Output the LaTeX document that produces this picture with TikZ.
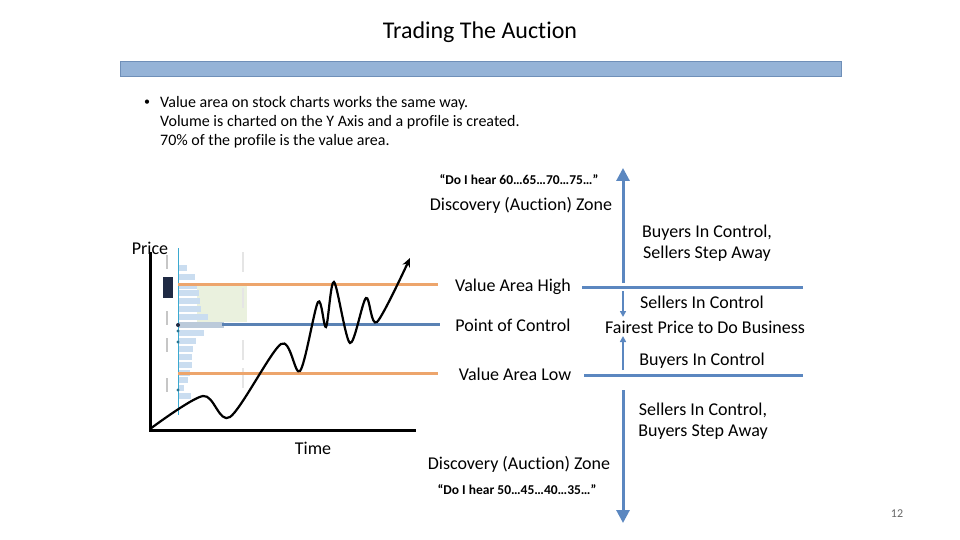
\documentclass[tikz,border=0pt]{standalone}
\usepackage{fontspec}
\setmainfont{Carlito}[Ligatures=NoCommon]
\usepackage{xcolor}
\usetikzlibrary{arrows.meta}
\definecolor{barblue}{HTML}{95B3D7}
\definecolor{baredge}{HTML}{6F8FB8}
\definecolor{zoneblue}{HTML}{5B87C0}
\definecolor{vaorange}{HTML}{EDA56C}
\definecolor{pocblue}{HTML}{5A82B4}
\definecolor{profblue}{HTML}{CADDF0}
\definecolor{profcyan}{HTML}{3BA9D0}
\definecolor{profgreen}{HTML}{EAF1DE}
\definecolor{navybox}{HTML}{1F2A44}

\tikzset{
  lbl/.style={font=\fontsize{18}{21}\selectfont, inner sep=0pt},
  note/.style={font=\fontsize{16}{19}\selectfont, inner sep=0pt, anchor=west},
  quote/.style={font=\bfseries\fontsize{13.5}{16}\selectfont, inner sep=0pt},
  zonearrow/.style={line width=3pt, draw=zoneblue, -{Triangle[width=13pt,length=13pt]}},
  smallarrow/.style={line width=1.6pt, draw=zoneblue, -{Triangle[width=6pt,length=6pt]}},
  zoneline/.style={line width=3pt, draw=zoneblue},
  valine/.style={line width=3pt, draw=vaorange},
  pocline/.style={line width=3pt, draw=pocblue},
  axis/.style={line width=3pt, draw=black},
  profbar/.style={fill=profblue, draw=none}
}

\begin{document}
\begin{tikzpicture}[x=1pt, y=-1pt]
\useasboundingbox (0,0) rectangle (960,540);

\node[font=\fontsize{24}{28}\selectfont, inner sep=0pt] (title) at (480,32) {Trading The Auction};
\draw[fill=barblue, draw=baredge, line width=0.8pt] (120,61) rectangle (841,76);

\node[note, font=\fontsize{12}{14}\selectfont] (dot) at (144,103) {\textbullet};
\node[note] (line1) at (160,103) {Value area on stock charts works the same way.};
\node[note] (line2) at (160,122) {Volume is charted on the Y Axis and a profile is created.};
\node[note] (line3) at (160,141) {70\% of the profile is the value area.};

\fill[profgreen] (197,285) rectangle (247,322);
\foreach \y/\w in {268/187, 277/195, 286/197, 293/199, 301/200, 309/201, 317/208,
                   333/204, 341/196, 349/193, 357/192, 365/192, 373/190, 380/188, 388/184, 396/191}
  \fill[profbar] (179,\y-3) rectangle (\w,\y+3);
\fill[profblue!80!gray] (179,322) rectangle (224,328);
\fill[navybox] (163,277) rectangle (173,298);
\foreach \y in {262, 318, 345, 385}
  \fill[gray!45] (166,\y-7) rectangle (167.5,\y+7);
\foreach \y in {262, 298, 350, 378}
  \fill[gray!20] (242,\y-10) rectangle (243.5,\y+10);
\draw[profcyan, line width=1pt] (178,248) -- (178,415);
\foreach \y in {331, 342, 390}
  \fill[profcyan!70!black] (178,\y) circle (1.6pt);
\fill[navybox] (178,325) circle (2pt);

\coordinate (vah w) at (178,284);
\coordinate (vah e) at (438,284);
\coordinate (poc w) at (222,324);
\coordinate (poc e) at (440,324);
\coordinate (val w) at (178,373);
\coordinate (val e) at (438,373);
\draw[valine] (vah w) -- (vah e);
\draw[pocline] (poc w) -- (poc e);
\draw[valine] (val w) -- (val e);

\coordinate (origin) at (150,430);
\coordinate (ytop) at (150,252);
\coordinate (xend) at (416,430);
\draw[axis] (ytop) -- (origin) -- (xend);
\node[lbl] (price) at (150,248) {Price};
\node[lbl] (time) at (313,448) {Time};

\draw[line width=2.2pt, -{Stealth[length=9pt,width=8pt]}] plot[smooth, tension=0.5] coordinates {
  (150,429) (203,396) (230,417) (281,344) (300,371) (318,302) (326,327)
  (334,282) (350,343) (366,298) (377,322) (410,258)};

\node[lbl] (vah) at (513,287) {Value Area High};
\node[lbl] (poc) at (513,325) {Point of Control};
\node[lbl] (val) at (515,374) {Value Area Low};

\node[quote] (quote up) at (519,180) {“Do I hear 60…65…70…75…”};
\node[lbl] (zone up) at (521,205) {Discovery (Auction) Zone};
\node[lbl] (zone down) at (519,464) {Discovery (Auction) Zone};
\node[quote] (quote down) at (517,490) {“Do I hear 50…45…40…35…”};

\coordinate (top start) at (623,283);
\coordinate (top tip) at (623,168);
\coordinate (mid a) at (623,291);
\coordinate (mid b) at (623,317);
\coordinate (mid c) at (623,370);
\coordinate (mid d) at (623,336);
\coordinate (bot start) at (623,390);
\coordinate (bot tip) at (623,523);
\coordinate (high w) at (582,287);
\coordinate (high e) at (803,287);
\coordinate (low w) at (584,375);
\coordinate (low e) at (803,375);

\draw[zonearrow] (top start) -- (top tip);
\draw[zoneline] (high w) -- (high e);
\draw[smallarrow] (mid a) -- (mid b);
\draw[smallarrow] (mid c) -- (mid d);
\draw[zoneline] (low w) -- (low e);
\draw[zonearrow] (bot start) -- (bot tip);

\node[lbl] (buyers up1) at (707,233) {Buyers In Control,};
\node[lbl] (buyers up2) at (707,254) {Sellers Step Away};
\node[lbl] (sellers) at (702,302) {Sellers In Control};
\node[lbl] (fair) at (705,327) {Fairest Price to Do Business};
\node[lbl] (buyers) at (702,361) {Buyers In Control};
\node[lbl] (sellers dn1) at (703,410) {Sellers In Control,};
\node[lbl] (sellers dn2) at (703,432) {Buyers Step Away};

\node[font=\fontsize{12}{14}\selectfont, text=gray!80!black, inner sep=0pt] (page) at (897,514) {12};
\end{tikzpicture}
\end{document}
